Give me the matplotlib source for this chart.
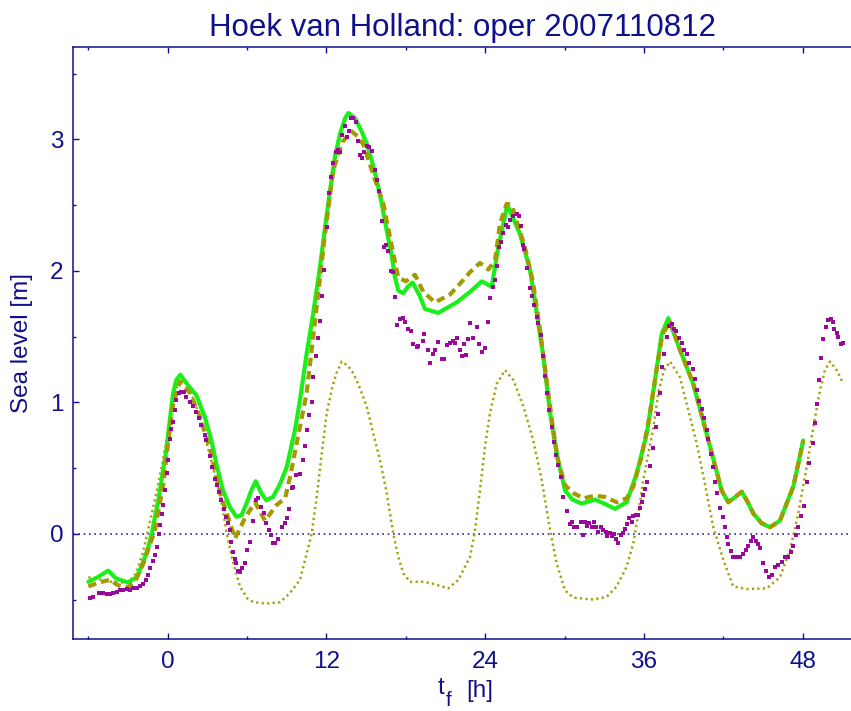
import matplotlib
matplotlib.use('Agg')
import matplotlib.pyplot as plt
from matplotlib.ticker import FixedLocator

plt.rcParams['font.family'] = ['Liberation Sans', 'DejaVu Sans']

title = 'Hoek van Holland: oper 2007110812'
xlabel_main = 't'
xlabel_sub = 'f'
xlabel_unit = '[h]'
ylabel = 'Sea level [m]'
xticks = [0, 12, 24, 36, 48]
yticks = [0, 1, 2, 3]

# forecast (solid green)
fc_t = [-6.0, -5.3, -4.5, -3.9, -3.0, -2.34, -1.84, -1.47, -1.21, -0.96, -0.71, -0.1, 0.15, 0.4, 0.65,
        0.95, 1.53, 2.16, 2.8, 3.3, 3.67, 4.18, 4.69, 5.19, 5.57, 5.95, 6.32, 6.65, 7.07, 7.45, 7.96,
        8.49, 9.0, 9.62, 10.0, 10.5, 11.0, 11.51, 11.89, 12.27, 12.64, 13.02, 13.4, 13.65, 14.16,
        14.66, 15.04, 15.42, 15.8, 16.18, 16.55, 16.93, 17.18, 17.43, 17.81, 18.15, 18.52, 19.0,
        19.45, 20.45, 21.84, 22.85, 23.73, 24.49, 24.99, 25.67, 26.63, 27.38, 27.89, 28.39, 28.9,
        29.4, 30.03, 30.6, 31.29, 32.3, 33.0, 33.81, 34.69, 35.45, 36.21, 36.84, 37.34, 37.84, 38.72,
        39.73, 40.74, 41.87, 42.37, 42.9, 43.39, 43.8, 44.26, 44.9, 45.53, 46.28, 47.29, 48.04]
fc_h = [-0.365, -0.33, -0.28, -0.34, -0.37, -0.33, -0.21, -0.10, 0.0, 0.13, 0.256, 0.64, 0.86, 1.07, 1.17,
        1.21, 1.13, 1.055, 0.89, 0.71, 0.535, 0.33, 0.205, 0.13, 0.14, 0.23, 0.33, 0.40, 0.31, 0.256, 0.28,
        0.38, 0.51, 0.79, 1.02, 1.37, 1.68, 2.03, 2.33, 2.61, 2.87, 3.04, 3.16, 3.20, 3.16,
        3.06, 2.97, 2.84, 2.69, 2.51, 2.31, 2.11, 1.95, 1.85, 1.83, 1.88, 1.91, 1.82,
        1.71, 1.68, 1.76, 1.84, 1.92, 1.88, 2.18, 2.50, 2.28, 2.01, 1.68, 1.35, 0.92,
        0.61, 0.33, 0.26, 0.23, 0.26, 0.23, 0.19, 0.24, 0.46, 0.76, 1.17, 1.52, 1.64, 1.40,
        1.14, 0.76, 0.33, 0.24, 0.28, 0.32, 0.25, 0.155, 0.08, 0.05, 0.10, 0.36, 0.71]

# second forecast (dashed olive)
f2_t = [-6.0, -5.2, -4.36, -3.8, -3.1, -2.5, -1.84, -0.96, -0.33, 0.05, 0.42, 0.93, 1.69, 2.44, 3.2,
        3.96, 4.71, 5.09, 5.84, 6.6, 7.35, 8.24, 8.87, 9.24, 9.75, 10.5, 11.26, 11.89, 12.52, 13.2,
        13.9, 14.4, 14.79, 15.54, 16.3, 17.05, 17.43, 18.0, 18.69, 19.32, 20.2, 21.34, 22.34, 22.85,
        23.6, 24.23, 24.74, 25.12, 25.62, 26.0, 27.0, 27.6, 28.1, 28.6, 29.1, 29.5, 30.03, 30.66,
        31.41, 32.3, 33.05, 33.94, 34.69, 35.2, 35.8, 36.4, 36.9, 37.4, 37.97, 38.72, 39.73, 40.74,
        41.87, 42.37, 42.9, 43.39, 43.8, 44.26, 44.9, 45.53, 46.28, 47.29, 48.04]
f2_h = [-0.40, -0.37, -0.35, -0.39, -0.41, -0.37, -0.225, 0.03, 0.38, 0.71, 0.99, 1.16, 1.07, 0.89, 0.64,
        0.31, 0.08, -0.035, 0.12, 0.24, 0.10, 0.22, 0.27, 0.43, 0.69, 1.07, 1.73, 2.28, 2.77, 2.98,
        3.06, 3.02, 2.96, 2.73, 2.51, 2.13, 1.95, 1.92, 1.97, 1.84, 1.76, 1.82, 1.93, 1.99,
        2.06, 2.01, 2.08, 2.36, 2.51, 2.50, 2.18, 1.92, 1.58, 1.20, 0.82, 0.56, 0.37, 0.31,
        0.27, 0.29, 0.28, 0.24, 0.27, 0.36, 0.58, 0.88, 1.22, 1.52, 1.61, 1.40, 1.14, 0.76,
        0.33, 0.24, 0.28, 0.32, 0.25, 0.155, 0.08, 0.05, 0.10, 0.36, 0.71]

# astronomical tide (dotted olive)
tide_t = [-6.0, -5.0, -4.0, -3.0, -2.4, -1.9, -1.55, -0.86, -0.36, 0.15, 0.53, 0.9, 1.2, 1.69, 2.44,
          3.2, 3.95, 4.46, 4.96, 5.46, 6.0, 6.47, 7.48, 8.49, 9.24, 10.0, 10.5, 10.88, 11.26, 11.64,
          12.02, 12.45, 12.75, 13.15, 13.6, 14.03, 14.4, 15.04, 15.54, 16.05, 16.55, 17.05, 17.43,
          17.81, 18.31, 19.32, 20.08, 21.21, 21.97, 22.6, 22.85, 23.23, 23.6, 23.98, 24.36, 24.87,
          25.5, 26.12, 26.88, 27.63, 28.27, 28.9, 29.4, 30.03, 30.66, 32.17, 33.18, 33.94, 34.69,
          35.2, 35.57, 35.95, 36.33, 36.7, 37.08, 37.5, 37.97, 38.72, 39.35, 39.98, 40.61, 41.24,
          42.0, 42.75, 43.76, 45.28, 46.28, 47.04, 47.66, 48.3, 48.8, 49.3, 49.68, 50.06, 50.57, 51.07]
tide_h = [-0.33, -0.35, -0.37, -0.37, -0.30, -0.15, 0.0, 0.31, 0.56, 0.86, 1.07, 1.17, 1.18, 1.09, 0.89,
          0.59, 0.31, 0.0, -0.225, -0.40, -0.49, -0.52, -0.53, -0.52, -0.45, -0.35, -0.15, 0.0, 0.28, 0.61,
          0.92, 1.12, 1.22, 1.31, 1.28, 1.22, 1.14, 0.97, 0.76, 0.56, 0.31, 0.0, -0.175,
          -0.30, -0.365, -0.365, -0.38, -0.415, -0.35, -0.225, -0.175, 0.03, 0.33, 0.66, 0.92, 1.14,
          1.245, 1.17, 0.97, 0.71, 0.41, 0.03, -0.225, -0.43, -0.485, -0.50, -0.48, -0.40, -0.25,
          -0.07, 0.155, 0.41, 0.61, 0.80, 1.07, 1.24, 1.31, 1.19, 0.94, 0.69, 0.38, 0.05,
          -0.20, -0.40, -0.42, -0.415, -0.33, -0.125, 0.155, 0.51, 0.81, 1.09, 1.245, 1.31, 1.245, 1.14]

# observations (purple dots)
obs_t = [-5.87, -5.62, -5.17, -4.87, -4.61, -4.36, -4.11, -3.85, -3.6, -3.36, -3.1, -2.85, -2.6, -2.34,
         -2.09, -1.84, -1.64, -1.47, -1.34, -1.13, -0.96, -0.83, -0.67, -0.55, -0.45, -0.33, -0.2,
         -0.08, 0.02, 0.15, 0.28, 0.4, 0.53, 0.65, 0.85, 1.03, 1.23, 1.41, 1.66, 1.91, 2.12, 2.37,
         2.54, 2.8, 2.92, 3.17, 3.37, 3.55, 3.73, 3.88, 4.05, 4.23, 4.43, 4.56, 4.69, 4.81, 4.94,
         5.06, 5.19, 5.31, 5.44, 5.64, 5.82, 5.99, 6.2, 6.45, 6.65, 6.83, 7.07, 7.26, 7.45, 7.66,
         7.83, 7.98, 8.11, 8.36, 8.61, 8.87, 8.99, 9.19, 9.37, 9.49, 9.7, 10.0, 10.2, 10.38, 10.5,
         10.7, 10.88, 11.0, 11.21, 11.39, 11.51, 11.69, 11.84, 12.02, 12.21, 12.34, 12.52, 12.72,
         12.9, 13.02, 13.2, 13.4, 13.58, 13.7, 13.83, 14.03, 14.21, 14.41, 14.54, 14.69, 14.84,
         15.04, 15.24, 15.42, 15.69, 15.84, 16.0, 16.18, 16.35, 16.52, 16.67, 16.86, 17.05, 17.18,
         17.36, 17.56, 17.81, 17.94, 18.19, 18.37, 18.57, 18.82, 18.94, 19.27, 19.37, 19.7, 19.83,
         20.03, 20.2, 20.45, 20.71, 20.88, 21.09, 21.34, 21.54, 21.72, 21.89, 22.09, 22.22, 22.4,
         22.55, 22.72, 22.85, 23.1, 23.36, 23.55, 23.73, 23.98, 24.23, 24.36, 24.56, 24.74, 24.87,
         25.06, 25.19, 25.37, 25.57, 25.7, 25.87, 26.08, 26.38, 26.58, 26.68, 26.83, 26.93, 27.18,
         27.38, 27.56, 27.69, 27.89, 28.01, 28.19, 28.34, 28.52, 28.69, 28.85, 29.02, 29.18, 29.35,
         29.52, 29.7, 29.9, 30.16, 30.41, 30.54, 30.71, 30.96, 31.24, 31.37, 31.54, 31.72, 31.87,
         32.05, 32.22, 32.37, 32.55, 32.73, 32.92, 33.13, 33.23, 33.43, 33.56, 33.73, 33.89, 34.04,
         34.24, 34.44, 34.57, 34.74, 34.89, 35.07, 35.19, 35.4, 35.57, 35.7, 35.83, 35.95, 36.08,
         36.25, 36.45, 36.7, 36.89, 37.08, 37.21, 37.34, 37.52, 37.72, 37.91, 38.09, 38.27, 38.42,
         38.67, 38.85, 39.02, 39.23, 39.42, 39.68, 39.86, 40.03, 40.18, 40.36, 40.54, 40.74, 40.86,
         41.04, 41.2, 41.37, 41.54, 41.75, 41.95, 42.12, 42.25, 42.37, 42.55, 42.75, 43.0, 43.26,
         43.51, 43.71, 43.89, 44.07, 44.26, 44.47, 44.64, 44.77, 45.02, 45.22, 45.47, 45.65, 45.9,
         46.15, 46.41, 46.66, 46.91, 47.09, 47.29, 47.49, 47.66, 47.87, 48.1, 48.3, 48.5, 48.75,
         48.93, 49.05, 49.25, 49.38, 49.56, 49.76, 49.93, 50.11, 50.26, 50.39, 50.57, 50.69, 50.87,
         51.07]
obs_h = [-0.49, -0.48, -0.45, -0.45, -0.46, -0.46, -0.45, -0.44, -0.43, -0.43, -0.42, -0.43, -0.415, -0.41,
         -0.40, -0.38, -0.35, -0.31, -0.26, -0.21, -0.16, -0.10, 0.0, 0.07, 0.15, 0.22, 0.33,
         0.46, 0.56, 0.72, 0.80, 0.85, 0.94, 1.02, 1.07, 1.08, 1.075, 1.04, 1.0, 0.97, 0.93, 0.88,
         0.83, 0.75, 0.71, 0.59, 0.51, 0.42, 0.37, 0.32, 0.256, 0.19, 0.13, 0.08, 0.03, -0.06, -0.14,
         -0.19, -0.225, -0.28, -0.29, -0.26, -0.225, -0.12, -0.06, 0.10, 0.256, 0.27, 0.205, 0.16, 0.084, 0.03,
         -0.01, -0.07, -0.07, -0.04, 0.05, 0.084, 0.117, 0.19, 0.345, 0.353, 0.446, 0.454, 0.56, 0.667, 0.79,
         0.90, 1.00, 1.19, 1.35, 1.49, 1.62, 1.81, 2.01, 2.33, 2.59, 2.71, 2.82, 2.90,
         2.92, 2.905, 3.03, 3.10, 3.02, 3.06, 3.16, 3.16, 3.13, 2.99, 2.88, 2.86, 2.905,
         2.95, 2.94, 2.91, 2.77, 2.69, 2.61, 2.38, 2.18, 2.20, 2.15, 2.0, 1.99, 1.80,
         1.59, 1.63, 1.645, 1.61, 1.56, 1.54, 1.44, 1.42, 1.43, 1.47, 1.52, 1.40, 1.30,
         1.37, 1.40, 1.46, 1.33, 1.33, 1.435, 1.45, 1.47, 1.45, 1.49, 1.40, 1.35, 1.44,
         1.36, 1.48, 1.60, 1.49, 1.57, 1.44, 1.38, 1.41, 1.61, 1.79, 1.88, 1.93, 2.04,
         2.18, 2.22, 2.29, 2.35, 2.33, 2.385, 2.42, 2.43, 2.42, 2.34, 2.20, 2.165, 2.02,
         1.87, 1.81, 1.74, 1.65, 1.60, 1.51, 1.35, 1.20, 1.07, 0.94, 0.81, 0.70, 0.60,
         0.52, 0.43, 0.28, 0.17, 0.074, 0.09, 0.053, 0.049, 0.09, -0.01, 0.09, 0.059, 0.079,
         0.049, 0.09, 0.049, 0.015, 0.053, 0.028, 0.015, -0.015, 0.003, -0.015, -0.002, -0.043, -0.073,
         -0.01, 0.003, 0.033, 0.074, 0.117, 0.09, 0.135, 0.142, 0.142, 0.198, 0.243, 0.294, 0.338,
         0.395, 0.515, 0.65, 0.81, 0.91, 1.07, 1.265, 1.37, 1.50, 1.58, 1.595, 1.555, 1.545,
         1.49, 1.45, 1.40, 1.37, 1.30, 1.25, 1.18, 1.09, 1.01, 0.946, 0.877, 0.79, 0.718,
         0.606, 0.505, 0.395, 0.307, 0.20, 0.125, 0.049, -0.023, -0.078, -0.13, -0.175, -0.18, -0.18,
         -0.15, -0.124, -0.094, -0.053, -0.028, -0.053, -0.078, -0.111, -0.22, -0.28, -0.33, -0.314, -0.25,
         -0.238, -0.213, -0.18, -0.175, -0.137, -0.094, -0.01, 0.053, 0.135, 0.21, 0.395, 0.535, 0.687,
         0.84, 0.99, 1.17, 1.34, 1.48, 1.57, 1.625, 1.63, 1.61, 1.557, 1.524, 1.498, 1.443,
         1.448]

navy = '#10108c'
green = '#1aef1a'
olive = '#a39a00'
olive_dot = '#a8a010'
purple = '#9a0a9a'

W, H = 851, 711
fig = plt.figure(figsize=(W / 100, H / 100), dpi=100)
ax = fig.add_axes([73.3 / W, 1 - 639 / H, 1 - 73.3 / W, (639 - 47.3) / H])

ax.axhline(0, color='#2a2aa8', lw=1.2, linestyle=(0, (1, 2.2)), zorder=1)
ax.plot(tide_t, tide_h, color=olive_dot, lw=1.8, linestyle=(0, (0.9, 1.3)), zorder=2)
ax.plot(fc_t, fc_h, color=green, lw=3.0, solid_capstyle='round', solid_joinstyle='round', zorder=3)
ax.plot(f2_t, f2_h, color=olive, lw=3.0, linestyle=(0, (2.0, 1.2)), zorder=4)
ax.plot(obs_t, obs_h, linestyle='none', marker='s', markersize=3.1, color=purple,
        markeredgewidth=0, zorder=5)

ax.set_xlim(-7.14, 51.65)
ax.set_ylim(-0.80, 3.70)

ax.xaxis.set_major_locator(FixedLocator(xticks))
ax.xaxis.set_minor_locator(FixedLocator([-6, 6, 18, 30, 42]))
ax.yaxis.set_major_locator(FixedLocator(yticks))
ax.yaxis.set_minor_locator(FixedLocator([-0.5, 0.5, 1.5, 2.5, 3.5]))
ax.set_xticklabels([str(v) for v in xticks])
ax.set_yticklabels([str(v) for v in yticks])

for s in ['left', 'bottom', 'top']:
    ax.spines[s].set_color(navy)
    ax.spines[s].set_linewidth(1.1)
ax.spines['right'].set_visible(False)

ax.tick_params(which='both', direction='in', colors=navy, top=True, right=False,
               labelsize=17.5, labelcolor=navy)
ax.tick_params(which='major', length=4.5, width=1.0)
ax.tick_params(which='minor', length=2.5, width=1.0)
ax.tick_params(axis='x', pad=9)
ax.tick_params(axis='y', pad=7)

ax.set_title(title, color=navy, fontsize=22.5, pad=8)
ax.set_ylabel(ylabel, color=navy, fontsize=17.5, labelpad=12)

# x label: "t" with a large, low subscript "f", then "[h]"
fig.text(441 / W, 1 - 694 / H, xlabel_main, color=navy, fontsize=17.5, ha='center', va='baseline')
fig.text(449 / W, 1 - 706 / H, xlabel_sub, color=navy, fontsize=15, ha='center', va='baseline')
fig.text(480 / W, 1 - 697 / H, xlabel_unit, color=navy, fontsize=17.5, ha='center', va='baseline')

fig.savefig('out.png', dpi=100)
